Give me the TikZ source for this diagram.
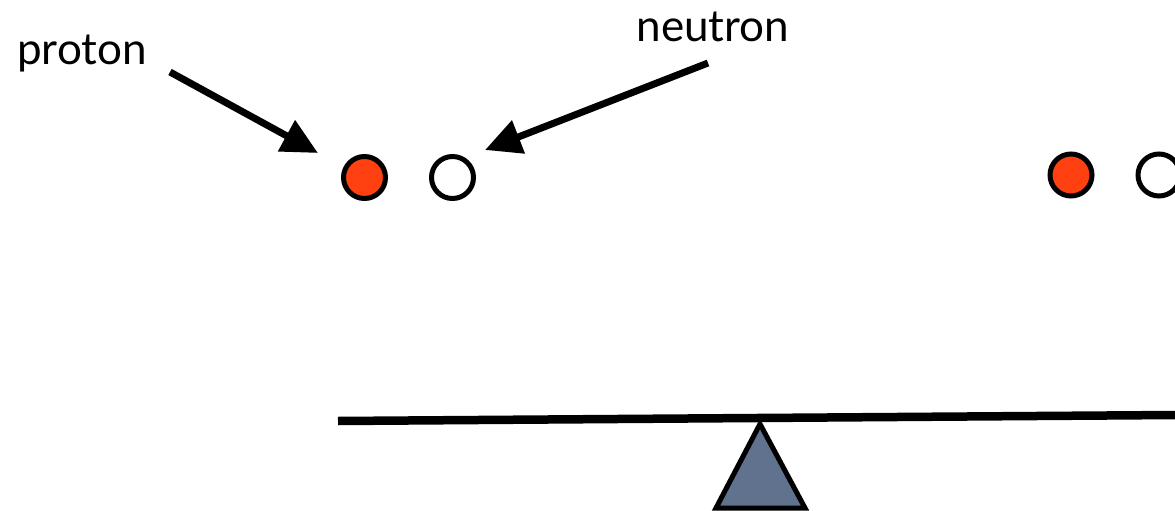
\documentclass[tikz,border=0pt]{standalone}
\usepackage{fontspec}
\setmainfont{Lato}
\usetikzlibrary{arrows.meta}
\definecolor{protonred}{RGB}{255,64,16}
\definecolor{slate}{RGB}{96,114,142}
\begin{document}
\begin{tikzpicture}[x=1pt,y=-1pt,
  particle/.style={circle,draw=black,line width=5pt,minimum size=42pt,inner sep=0pt},
  protonball/.style={particle,fill=protonred},
  neutronball/.style={particle,fill=white},
  label/.style={font=\fontsize{44}{52}\selectfont,inner sep=0pt,anchor=base},
  pointer/.style={line width=7pt,-{Triangle[length=36pt,width=34pt]}},
  beam/.style={line width=8.5pt},
  fulcrum/.style={draw=black,line width=5pt,fill=slate,line join=miter}]
\useasboundingbox (0,0) rectangle (1175,511);
\node[protonball] (p1) at (364.5,177.5) {};
\node[neutronball] (n1) at (452.5,177.5) {};
\node[protonball] (p2) at (1071,175) {};
\node[neutronball] (n2) at (1159,175) {};
\node[label] (lp) at (82,65) {proton};
\node[label] (ln) at (713,42) {neutron};
\coordinate (ps) at (170,72);
\coordinate (pt) at (318,153);
\coordinate (ns) at (708,63);
\coordinate (nt) at (485,150);
\draw[pointer] (ps) -- (pt);
\draw[pointer] (ns) -- (nt);
\coordinate (bl) at (338,421);
\coordinate (br) at (1176,415);
\draw[beam] (bl) -- (br);
\coordinate (apex) at (760,424);
\coordinate (baseL) at (716,508);
\coordinate (baseR) at (805,508);
\draw[fulcrum] (apex) -- (baseR) -- (baseL) -- cycle;
\end{tikzpicture}
\end{document}
